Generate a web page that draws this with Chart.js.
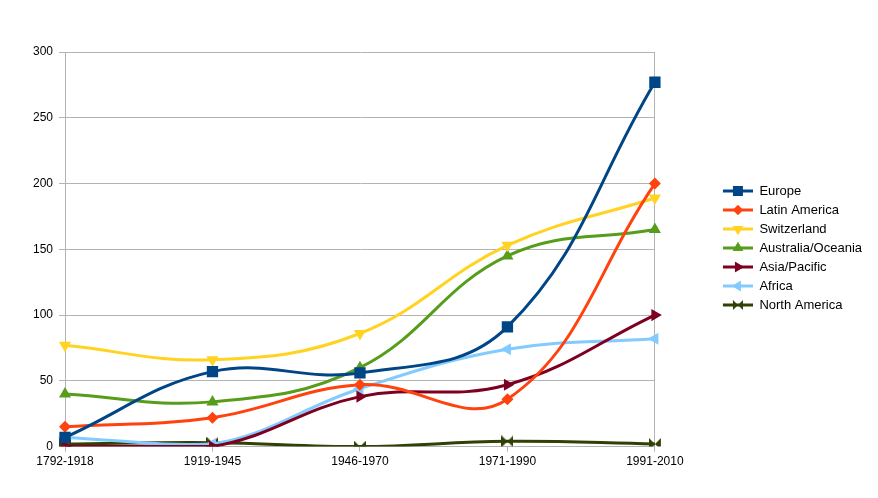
<!DOCTYPE html>
<html>
<head>
<meta charset="utf-8">
<script src="https://cdn.jsdelivr.net/npm/chart.js@4/dist/chart.umd.min.js"></script>
<style>
  html,body{margin:0;padding:0;background:#fff;}
  #box{width:878px;height:498px;}
</style>
</head>
<body>
<div id="box"><canvas id="grafico"></canvas></div>
<script>
// categorias e valores
const periodos = ['1792-1918','1919-1945','1946-1970','1971-1990','1991-2010'];
const europa = [7, 57, 56, 91, 277];
const americaLatina = [15, 22, 47, 36, 200];
const suica = [77, 66, 86, 153, 189];
const australia = [40, 34, 60, 145, 165];
const asiaPacifico = [0, 0, 38, 47, 100];
const africa = [7, 2, 44, 74, 82];
const americaNorte = [2, 3, 0, 4, 2];
const ticksY = [0, 50, 100, 150, 200, 250, 300];

const cinza = '#b3b3b3';
const folga = 62; // espaço entre o gráfico e a legenda

// marcador "gravata" para America do Norte
function gravata(cor, w, h){
  const c = document.createElement('canvas');
  c.width = w; c.height = h;
  const g = c.getContext('2d');
  g.fillStyle = cor;
  g.beginPath();
  g.moveTo(0,0); g.lineTo(w,h); g.lineTo(w,0); g.lineTo(0,h); g.closePath();
  g.fill();
  return c;
}

// ícone da legenda: linha + marcador (com folga à esquerda)
function iconeLegenda(cor, estilo, rot, r){
  const c = document.createElement('canvas');
  c.width = folga + 30; c.height = 14;
  const g = c.getContext('2d');
  g.translate(folga, 0);
  g.strokeStyle = cor; g.lineWidth = 3;
  g.beginPath(); g.moveTo(0,7); g.lineTo(30,7); g.stroke();
  if (estilo === 'gravata') {
    g.drawImage(gravata(cor, 10, 10), 10, 2);
  } else {
    g.fillStyle = cor;
    Chart.helpers.drawPoint(g, {pointStyle: estilo, rotation: rot, radius: r, borderWidth: 0}, 15, 7);
    g.fill();
  }
  return c;
}

const series = [
  {label:'Europe', data:europa, cor:'#004586', estilo:'rect', rot:0, r:8, rl:7},
  {label:'Latin America', data:americaLatina, cor:'#ff420e', estilo:'rectRot', rot:0, r:6, rl:5},
  {label:'Switzerland', data:suica, cor:'#ffd320', estilo:'triangle', rot:180, r:7, rl:6},
  {label:'Australia/Oceania', data:australia, cor:'#579d1c', estilo:'triangle', rot:0, r:7, rl:6},
  {label:'Asia/Pacific', data:asiaPacifico, cor:'#7e0021', estilo:'triangle', rot:90, r:7, rl:6},
  {label:'Africa', data:africa, cor:'#83caff', estilo:'triangle', rot:270, r:7, rl:6},
  {label:'North America', data:americaNorte, cor:'#314004', estilo:'gravata', rot:0, r:6, rl:5}
];

const datasets = series.map(s=>({
  label: s.label,
  data: s.data,
  borderColor: s.cor,
  backgroundColor: s.cor,
  borderWidth: 3,
  tension: 0.4,
  pointStyle: s.estilo === 'gravata' ? gravata(s.cor, 12, 12) : s.estilo,
  pointRotation: s.rot,
  pointRadius: s.r,
  pointBorderWidth: 0,
  legendIcon: iconeLegenda(s.cor, s.estilo, s.rot, s.rl)
}));

// sobe um pouco a legenda
const subirLegenda = {
  id: 'subirLegenda',
  afterLayout(chart){
    chart.legend.top -= 14;
    chart.legend.bottom -= 14;
  }
};

new Chart(document.getElementById('grafico').getContext('2d'), {
  type: 'line',
  data: { labels: periodos, datasets: datasets },
  plugins: [subirLegenda],
  options: {
    responsive: true,
    maintainAspectRatio: false,
    animation: false,
    layout: { padding: { top: 52, right: 6, bottom: 26, left: 0 } },
    plugins: {
      tooltip: { enabled: false },
      legend: {
        position: 'right',
        labels: {
          usePointStyle: true,
          pointStyleWidth: folga + 30,
          padding: 6,
          color: '#000',
          font: { family: 'Liberation Sans', size: 13 },
          generateLabels: chart => chart.data.datasets.map((d,i)=>({
            text: d.label,
            pointStyle: d.legendIcon,
            fillStyle: d.borderColor,
            strokeStyle: d.borderColor,
            lineWidth: 0,
            hidden: false,
            datasetIndex: i
          }))
        }
      }
    },
    scales: {
      x: {
        offset: false,
        grid: {
          color: ctx => ctx.index === periodos.length - 1 ? cinza : 'rgba(0,0,0,0)',
          tickColor: cinza,
          tickLength: 5
        },
        border: { color: cinza },
        ticks: { color: '#000', padding: 3, maxRotation: 0, font: { family: 'Liberation Sans', size: 12 } }
      },
      y: {
        min: 0, max: 300,
        afterBuildTicks: axis => { axis.ticks = ticksY.map(v=>({value:v})); },
        afterFit: axis => { axis.width = 65; },
        grid: { color: cinza, tickColor: cinza, tickLength: 6 },
        border: { color: cinza },
        ticks: { color: '#000', padding: 6, font: { family: 'Liberation Sans', size: 12 } }
      }
    }
  }
});
</script>
</body>
</html>
